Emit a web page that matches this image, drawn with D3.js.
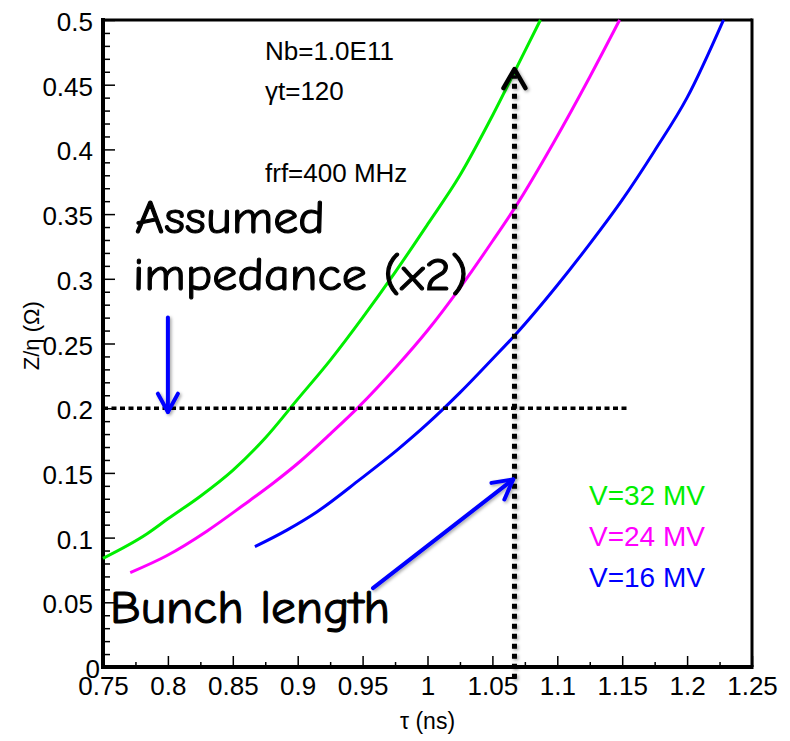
<!DOCTYPE html>
<html>
<head>
<meta charset="utf-8">
<script src="https://cdn.jsdelivr.net/npm/d3@7"></script>
<style>
  html, body { margin: 0; padding: 0; background: #fff; }
  svg { display: block; }
</style>
</head>
<body>
<svg id="chart" width="790" height="741"></svg>
<script>
// Threshold impedance Z/n versus bunch length tau, for three RF voltages.
const tau32 = [0.750, 0.784, 0.800, 0.825, 0.850, 0.875, 0.900, 0.925, 0.950, 0.975, 1.000, 1.025, 1.050, 1.075, 1.087];
const z32   = [0.084, 0.103, 0.1145, 0.132, 0.152, 0.177, 0.207, 0.237, 0.270, 0.305, 0.342, 0.380, 0.426, 0.476, 0.500];

const tau24 = [0.771, 0.799, 0.830, 0.858, 0.881, 0.902, 0.925, 0.947, 0.976, 1.000, 1.025, 1.050, 1.068, 1.097, 1.125, 1.148];
const z24   = [0.073, 0.086, 0.105, 0.125, 0.142, 0.159, 0.180, 0.201, 0.232, 0.260, 0.293, 0.329, 0.356, 0.405, 0.456, 0.500];

const tau16 = [0.867, 0.892, 0.915, 0.948, 0.977, 1.000, 1.025, 1.050, 1.067, 1.100, 1.125, 1.150, 1.175, 1.200, 1.228];
const z16   = [0.093, 0.106, 0.120, 0.145, 0.168, 0.188, 0.212, 0.238, 0.256, 0.295, 0.327, 0.361, 0.399, 0.440, 0.500];

const seriesNames  = ["V=32 MV", "V=24 MV", "V=16 MV"];
const seriesColors = ["#00ee00", "#ff00ff", "#0000ff"];

const xTicksMajor = [0.75, 0.8, 0.85, 0.9, 0.95, 1, 1.05, 1.1, 1.15, 1.2, 1.25];
const yTicksMajor = [0, 0.05, 0.1, 0.15, 0.2, 0.25, 0.3, 0.35, 0.4, 0.45, 0.5];

const infoLines = ["Nb=1.0E11", "\u03b3t=120", "frf=400 MHz"];

// Working point annotations
const assumedImpedance = 0.2;      // horizontal dotted line
const impedanceLineEnd = 1.156;
const bunchLength = 1.067;         // vertical dotted line
const bunchArrowTop = 0.462;
const bunchLineBottom = -0.009;
const impArrow = {tau: 0.8, zFrom: 0.27, zTo: 0.197};
const lenArrow = {tauFrom: 0.958, zFrom: 0.061, tauTo: 1.066, zTo: 0.145};

const svg = d3.select("#chart");
const m = {left: 103, right: 752, top: 20, bottom: 667};

const x = d3.scaleLinear().domain([0.75, 1.25]).range([m.left, m.right]);
const y = d3.scaleLinear().domain([0, 0.5]).range([m.bottom, m.top]);

const defs = svg.append("defs");
const sh = defs.append("filter").attr("id", "shadow")
  .attr("x", "-50%").attr("y", "-50%").attr("width", "200%").attr("height", "200%");
sh.append("feDropShadow").attr("dx", 1.5).attr("dy", 1.5).attr("stdDeviation", 1.5)
  .attr("flood-color", "#000").attr("flood-opacity", 0.35);

const sansFont = "'Liberation Sans', Arial, Helvetica, sans-serif";
const handFont = "'Comic Sans MS', 'Comic Neue', 'DejaVu Sans', sans-serif";
const fmt = d => String(+d.toFixed(3));

// Axes: major and minor ticks drawn inward
const xMinor = d3.range(0.775, 1.25, 0.05);
const yMinor = d3.range(0, 0.5001, 0.01).filter(v => Math.abs(v / 0.05 - Math.round(v / 0.05)) > 1e-6);

const gx = svg.append("g").attr("transform", `translate(0,${m.bottom})`)
  .call(d3.axisBottom(x).tickValues(xTicksMajor).tickSizeInner(-11).tickSizeOuter(0).tickFormat(fmt));
const gxm = svg.append("g").attr("transform", `translate(0,${m.bottom})`)
  .call(d3.axisBottom(x).tickValues(xMinor).tickSizeInner(-5).tickSizeOuter(0).tickFormat(""));
const gy = svg.append("g").attr("transform", `translate(${m.left},0)`)
  .call(d3.axisLeft(y).tickValues(yTicksMajor).tickSizeInner(-12).tickSizeOuter(0).tickFormat(fmt));
const gym = svg.append("g").attr("transform", `translate(${m.left},0)`)
  .call(d3.axisLeft(y).tickValues(yMinor).tickSizeInner(-7).tickSizeOuter(0).tickFormat(""));

[gx, gxm, gy, gym].forEach(g => {
  g.select(".domain").remove();
  g.selectAll(".tick line").attr("stroke", "#000").attr("stroke-width", 1.5);
});
gx.selectAll(".tick text")
  .attr("y", 28).attr("dy", null)
  .attr("font-family", sansFont).attr("font-size", 26).attr("fill", "#000");
gy.selectAll(".tick text")
  .attr("x", -10).attr("dy", null).attr("y", 10.5)
  .attr("font-family", sansFont).attr("font-size", 26).attr("fill", "#000");
gy.selectAll(".tick text").filter(d => d === 0).attr("x", -3);

// Frame
const frame = svg.append("g").attr("stroke", "#000").attr("fill", "none");
frame.append("line").attr("x1", m.left).attr("x2", m.right).attr("y1", m.top).attr("y2", m.top).attr("stroke-width", 3);
frame.append("line").attr("x1", m.right).attr("x2", m.right).attr("y1", m.top - 1.5).attr("y2", m.bottom).attr("stroke-width", 3);
frame.append("line").attr("x1", m.left).attr("x2", m.left).attr("y1", m.top - 2).attr("y2", m.bottom + 2).attr("stroke-width", 4);
frame.append("line").attr("x1", m.left - 2).attr("x2", m.right + 1.5).attr("y1", m.bottom).attr("y2", m.bottom).attr("stroke-width", 4);

// Axis titles
svg.append("text").attr("x", x(1.0)).attr("y", 729).attr("text-anchor", "middle")
  .attr("font-family", sansFont).attr("font-size", 23).text("\u03c4 (ns)");
svg.append("text").attr("transform", `translate(39,${y(0.256)}) rotate(-90)`).attr("text-anchor", "middle")
  .attr("font-family", sansFont).attr("font-size", 22).text("Z/\u03b7 (\u03a9)");

// Curves
const series = [
  {tau: tau32, z: z32},
  {tau: tau24, z: z24},
  {tau: tau16, z: z16}
];
const line = d3.line().x(d => x(d[0])).y(d => y(d[1])).curve(d3.curveMonotoneX);
series.forEach((s, i) => {
  svg.append("path")
    .datum(s.tau.map((t, k) => [t, s.z[k]]))
    .attr("d", line)
    .attr("fill", "none")
    .attr("stroke", seriesColors[i])
    .attr("stroke-width", 3)
    .attr("stroke-linejoin", "round");
});

// Assumed impedance level
svg.append("line")
  .attr("x1", x(0.75)).attr("x2", x(impedanceLineEnd))
  .attr("y1", y(assumedImpedance)).attr("y2", y(assumedImpedance))
  .attr("stroke", "#000").attr("stroke-width", 3.5).attr("stroke-dasharray", "5,3.5");

// Bunch length marker with arrow head
const vg = svg.append("g").attr("filter", "url(#shadow)");
vg.append("line")
  .attr("x1", x(bunchLength)).attr("x2", x(bunchLength))
  .attr("y1", y(bunchLineBottom)).attr("y2", y(bunchArrowTop) + 6)
  .attr("stroke", "#000").attr("stroke-width", 5).attr("stroke-dasharray", "5,5");
vg.append("path")
  .attr("d", `M${x(bunchLength) - 11},${y(bunchArrowTop) + 19} L${x(bunchLength)},${y(bunchArrowTop)} L${x(bunchLength) + 11},${y(bunchArrowTop) + 19}`)
  .attr("fill", "none").attr("stroke", "#000").attr("stroke-width", 4.5)
  .attr("stroke-linecap", "round").attr("stroke-linejoin", "round");

// Blue pointer arrows
function arrow(x1, y1, x2, y2, headLen, headAng) {
  const a = Math.atan2(y2 - y1, x2 - x1);
  const g = svg.append("g").attr("filter", "url(#shadow)");
  g.append("line").attr("x1", x1).attr("y1", y1).attr("x2", x2).attr("y2", y2)
    .attr("stroke", "#0000ff").attr("stroke-width", 4).attr("stroke-linecap", "round");
  const p1 = [x2 - headLen * Math.cos(a - headAng), y2 - headLen * Math.sin(a - headAng)];
  const p2 = [x2 - headLen * Math.cos(a + headAng), y2 - headLen * Math.sin(a + headAng)];
  g.append("path").attr("d", `M${p1[0]},${p1[1]} L${x2},${y2} L${p2[0]},${p2[1]}`)
    .attr("fill", "none").attr("stroke", "#0000ff").attr("stroke-width", 4)
    .attr("stroke-linecap", "round").attr("stroke-linejoin", "round");
}
arrow(x(impArrow.tau), y(impArrow.zFrom), x(impArrow.tau), y(impArrow.zTo), 21, 0.5);
arrow(x(lenArrow.tauFrom), y(lenArrow.zFrom), x(lenArrow.tauTo), y(lenArrow.zTo), 22, 0.5);

// Parameter text
const infoY = [60, 100, 182];
infoLines.forEach((t, i) => {
  svg.append("text").attr("x", 265).attr("y", infoY[i])
    .attr("font-family", sansFont).attr("font-size", 26).attr("fill", "#000").text(t);
});

// Legend
const legY = [505, 546, 587];
seriesNames.forEach((t, i) => {
  svg.append("text").attr("x", 589).attr("y", legY[i])
    .attr("font-family", sansFont).attr("font-size", 28).attr("fill", seriesColors[i]).text(t);
});

// Hand-written style labels
const handLabels = [
  {text: "Assumed", x: 135, y: 233, w: 190},
  {text: "impedance (x2)", x: 133, y: 290, w: 335},
  {text: "Bunch length", x: 110, y: 623, w: 280}
];
handLabels.forEach(h => {
  svg.append("text").attr("x", h.x).attr("y", h.y)
    .attr("font-family", handFont).attr("font-size", 46)
    .attr("textLength", h.w).attr("lengthAdjust", "spacingAndGlyphs")
    .attr("fill", "#000").attr("stroke", "#000").attr("stroke-width", 1.1)
    .text(h.text);
});
</script>
</body>
</html>
